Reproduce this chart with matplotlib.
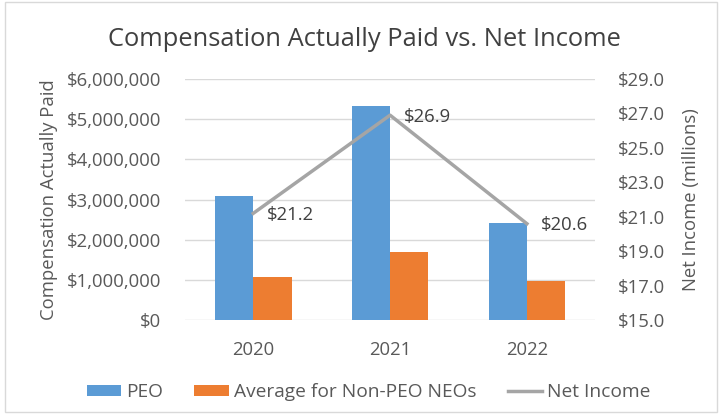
import numpy as np
import matplotlib.pyplot as plt
from matplotlib.ticker import FuncFormatter
from matplotlib.patches import Rectangle

years = ['2020', '2021', '2022']
peo = [3100000, 5320000, 2410000]
non_peo = [1070000, 1690000, 970000]
net_income = [21.2, 26.9, 20.6]

blue = '#5B9BD5'
orange = '#ED7D31'
gray = '#A5A5A5'
txt = '#595959'
fs = 13.3

plt.rcParams['font.family'] = ['Open Sans', 'DejaVu Sans']

fig = plt.figure(figsize=(7.19, 4.18), dpi=100)
ax = fig.add_axes([0.257, 0.234, 0.571, 0.577])

x = np.arange(len(years))
w = 0.28
b1 = ax.bar(x - w / 2, peo, w, color=blue, label='PEO', zorder=2)
b2 = ax.bar(x + w / 2, non_peo, w, color=orange, label='Average for Non-PEO NEOs', zorder=2)

ax.set_xlim(-0.5, 2.5)
ax.set_ylim(0, 6000000)
ax.set_yticks(np.arange(0, 6000001, 1000000))
ax.yaxis.set_major_formatter(FuncFormatter(lambda v, p: '${:,.0f}'.format(v)))
ax.set_xticks(x)
ax.set_xticklabels(years)
ax.grid(axis='y', color='#D9D9D9', linewidth=1, zorder=0)
ax.tick_params(length=0, colors=txt, labelsize=fs)
ax.tick_params(axis='y', pad=17)
ax.tick_params(axis='x', pad=15)
for s in ax.spines.values():
    s.set_visible(False)
ax.set_ylabel('Compensation Actually Paid', color=txt, fontsize=fs, labelpad=6)

ax2 = ax.twinx()
line, = ax2.plot(x, net_income, color=gray, linewidth=2.5, label='Net Income', zorder=3)
ax2.set_ylim(15, 29)
ax2.set_yticks(np.arange(15, 29.1, 2))
ax2.yaxis.set_major_formatter(FuncFormatter(lambda v, p: '${:.1f}'.format(v)))
ax2.tick_params(length=0, colors=txt, labelsize=fs, pad=16)
for s in ax2.spines.values():
    s.set_visible(False)
ax2.set_ylabel('Net Income (millions)', color=txt, fontsize=fs, labelpad=12)

for xi, v in zip(x, net_income):
    ax2.annotate('${:.1f}'.format(v), (xi, v), xytext=(10, -1), textcoords='offset points',
                 va='center', ha='left', fontsize=fs, color='#404040')

fig.text(0.507, 0.905, 'Compensation Actually Paid vs. Net Income', ha='center', va='center',
         fontsize=18.4, color='#404040')

fig.legend(handles=[b1, b2, line], loc='center', bbox_to_anchor=(0.5125, 0.062), ncol=3,
           frameon=False, fontsize=13.8, labelcolor=txt, handlelength=1.8,
           handleheight=0.5, handletextpad=0.25, columnspacing=1.65)

fig.patches.append(Rectangle((0.007, 0.015), 0.99, 0.98, transform=fig.transFigure,
                             fill=False, edgecolor='#D9D9D9', linewidth=1))

fig.savefig('out.png', dpi=100)
